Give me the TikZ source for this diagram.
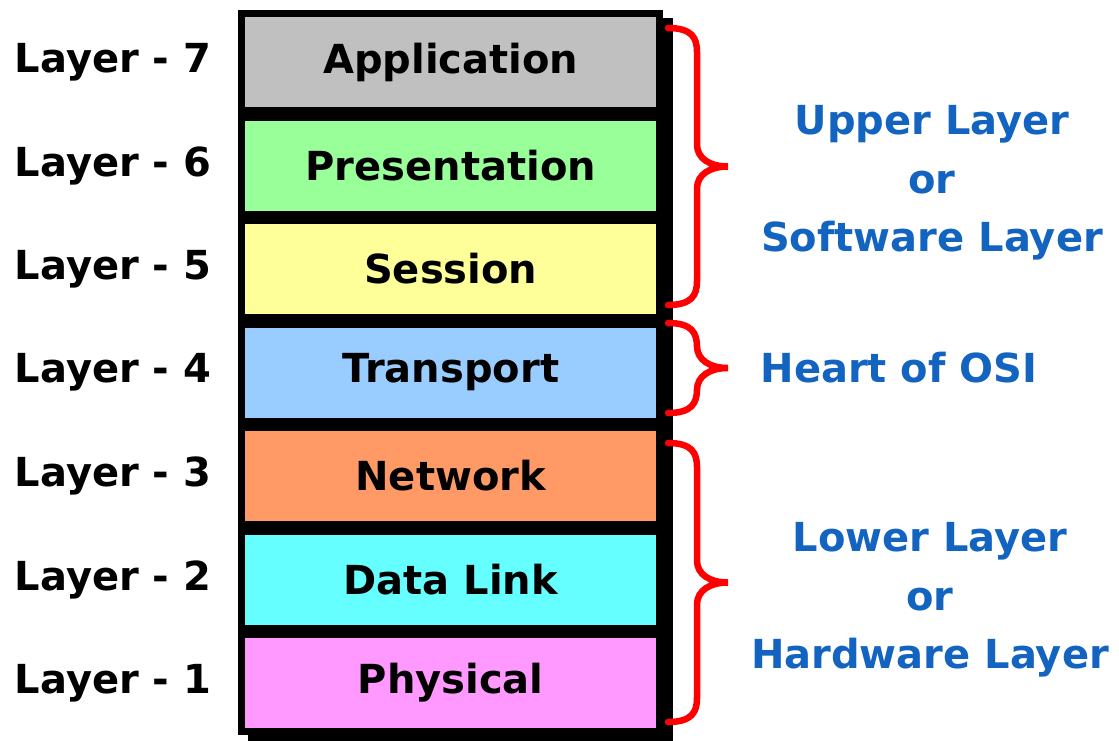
\documentclass[tikz,border=0pt]{standalone}
\usepackage{fontspec}
\setmainfont{DejaVu Sans}
\usepackage{tikz}
\usetikzlibrary{shadows,calc}

\definecolor{appgray}{RGB}{192,192,192}
\definecolor{presgreen}{RGB}{153,255,153}
\definecolor{sessyellow}{RGB}{255,255,153}
\definecolor{transblue}{RGB}{153,204,255}
\definecolor{netorange}{RGB}{255,153,102}
\definecolor{linkcyan}{RGB}{102,255,255}
\definecolor{physpink}{RGB}{255,153,255}
\definecolor{groupblue}{RGB}{18,100,192}
\definecolor{bracered}{RGB}{255,0,0}

% one curly brace: x of ends, top, bottom
\newcommand{\osibrace}[3]{%
\draw[bracered,line width=6.5pt,line cap=round]
(#1,#2) .. controls (#1+24,#2) and (#1+29,#2+10) .. (#1+29,#2+24)
-- (#1+29,{(#2+#3)/2-22})
.. controls (#1+29,{(#2+#3)/2-8}) and (#1+42,{(#2+#3)/2}) .. (#1+60,{(#2+#3)/2})
.. controls (#1+42,{(#2+#3)/2}) and (#1+29,{(#2+#3)/2+8}) .. (#1+29,{(#2+#3)/2+22})
-- (#1+29,#3-24)
.. controls (#1+29,#3-10) and (#1+24,#3) .. (#1,#3);
}

\begin{document}
\begin{tikzpicture}[x=1pt,y=-1pt,
  every node/.style={font=\fontsize{40}{58.5}\selectfont\bfseries},
  layerbox/.style={draw=black,line width=7pt,minimum width=418pt,
    minimum height=97pt,inner sep=0pt,
    drop shadow={shadow xshift=10pt,shadow yshift=-8pt,opacity=1,
      fill=black,draw=black,line width=7pt}},
  layerlabel/.style={text=black},
  grouplabel/.style={text=groupblue,align=center}]
\useasboundingbox (0,0) rectangle (1119,740);

% the seven boxes, top to bottom
\foreach \name/\txt/\col [count=\i] in
  {app/Application/appgray, pres/Presentation/presgreen,
   sess/Session/sessyellow, trans/Transport/transblue,
   net/Network/netorange, link/Data Link/linkcyan,
   phys/Physical/physpink}
{
  \pgfmathsetmacro{\yc}{62+103.5*(\i-1)}
  \pgfmathtruncatemacro{\num}{8-\i}
  \node[layerbox,fill=\col] (\name) at (450.75,\yc) {\txt};
  \node[layerlabel] (lbl\num) at (113,\yc) {Layer - \num};
}

% braces
\osibrace{668}{28}{305}
\osibrace{668}{323}{413}
\osibrace{668}{443}{722}

\node[grouplabel] (upper) at (932,183) {Upper Layer\\or\\Software Layer};
\node[grouplabel] (heart) at (899,368) {Heart of OSI};
\node[grouplabel] (lower) at (930,600) {Lower Layer\\or\\Hardware Layer};
\end{tikzpicture}
\end{document}
